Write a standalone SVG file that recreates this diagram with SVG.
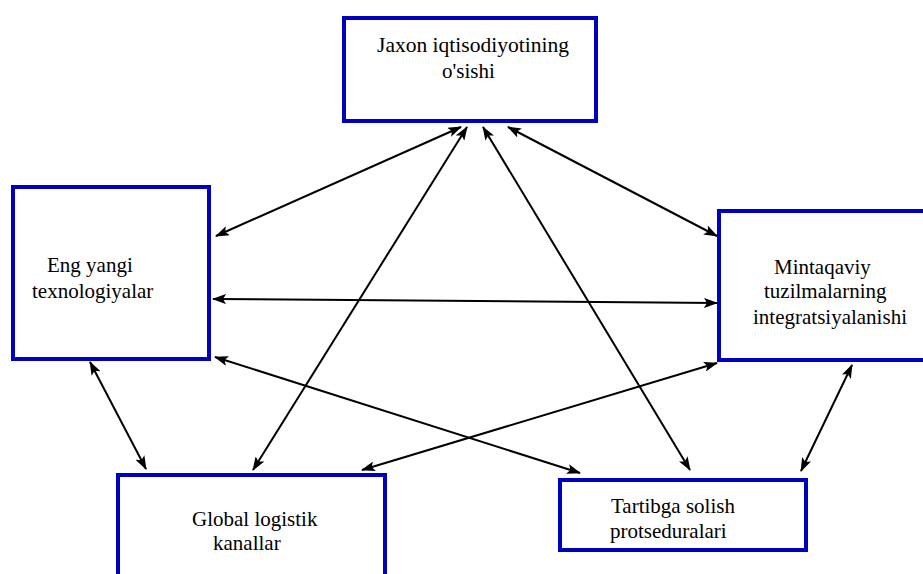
<svg xmlns="http://www.w3.org/2000/svg" width="923" height="574" viewBox="0 0 923 574">
<defs>
<marker id="ah" viewBox="0 0 14 10" refX="13" refY="5" markerWidth="14" markerHeight="10" markerUnits="userSpaceOnUse" orient="auto-start-reverse">
<path d="M0,0 L14,5 L0,10 L3,5 Z" fill="#000"/>
</marker>
</defs>
<style>
.box{fill:#fff;stroke:#0000BF;stroke-width:4}
.c{stroke:#000;stroke-width:2;fill:none;marker-start:url(#ah);marker-end:url(#ah)}
</style>
<rect width="923" height="574" fill="#fff"/>
<g font-family="Liberation Serif, Times New Roman, DejaVu Serif, serif" font-size="21" fill="#000">
<g id="n1">
<rect class="box" x="344" y="18" width="252" height="103"/>
<text x="377" y="52" textLength="192" lengthAdjust="spacingAndGlyphs">Jaxon iqtisodiyotining</text>
<text x="442" y="78">o'sishi</text>
</g>
<g id="n2">
<rect class="box" x="13" y="187" width="196" height="172"/>
<text x="47" y="272">Eng yangi</text>
<text x="32" y="298">texnologiyalar</text>
</g>
<g id="n3">
<rect class="box" x="719" y="211" width="210" height="149"/>
<text x="774" y="274">Mintaqaviy</text>
<text x="764" y="298">tuzilmalarning</text>
<text x="753" y="324">integratsiyalanishi</text>
</g>
<g id="n4">
<rect class="box" x="118" y="475" width="267" height="110"/>
<text x="192" y="526">Global logistik</text>
<text x="213" y="550">kanallar</text>
</g>
<g id="n5">
<rect class="box" x="560" y="480" width="246" height="70"/>
<text x="611" y="513">Tartibga solish</text>
<text x="610" y="538">protseduralari</text>
</g>
</g>
<g id="connectors">
<line class="c" x1="461" y1="127" x2="216" y2="236"/>
<line class="c" x1="467" y1="127" x2="253" y2="470"/>
<line class="c" x1="483" y1="127" x2="690" y2="470"/>
<line class="c" x1="508" y1="127" x2="717" y2="236"/>
<line class="c" x1="213" y1="299" x2="717" y2="303"/>
<line class="c" x1="215" y1="357" x2="580" y2="473"/>
<line class="c" x1="717" y1="363" x2="362" y2="470"/>
<line class="c" x1="90" y1="362" x2="146" y2="469"/>
<line class="c" x1="852" y1="365" x2="801" y2="471"/>
</g>
</svg>
